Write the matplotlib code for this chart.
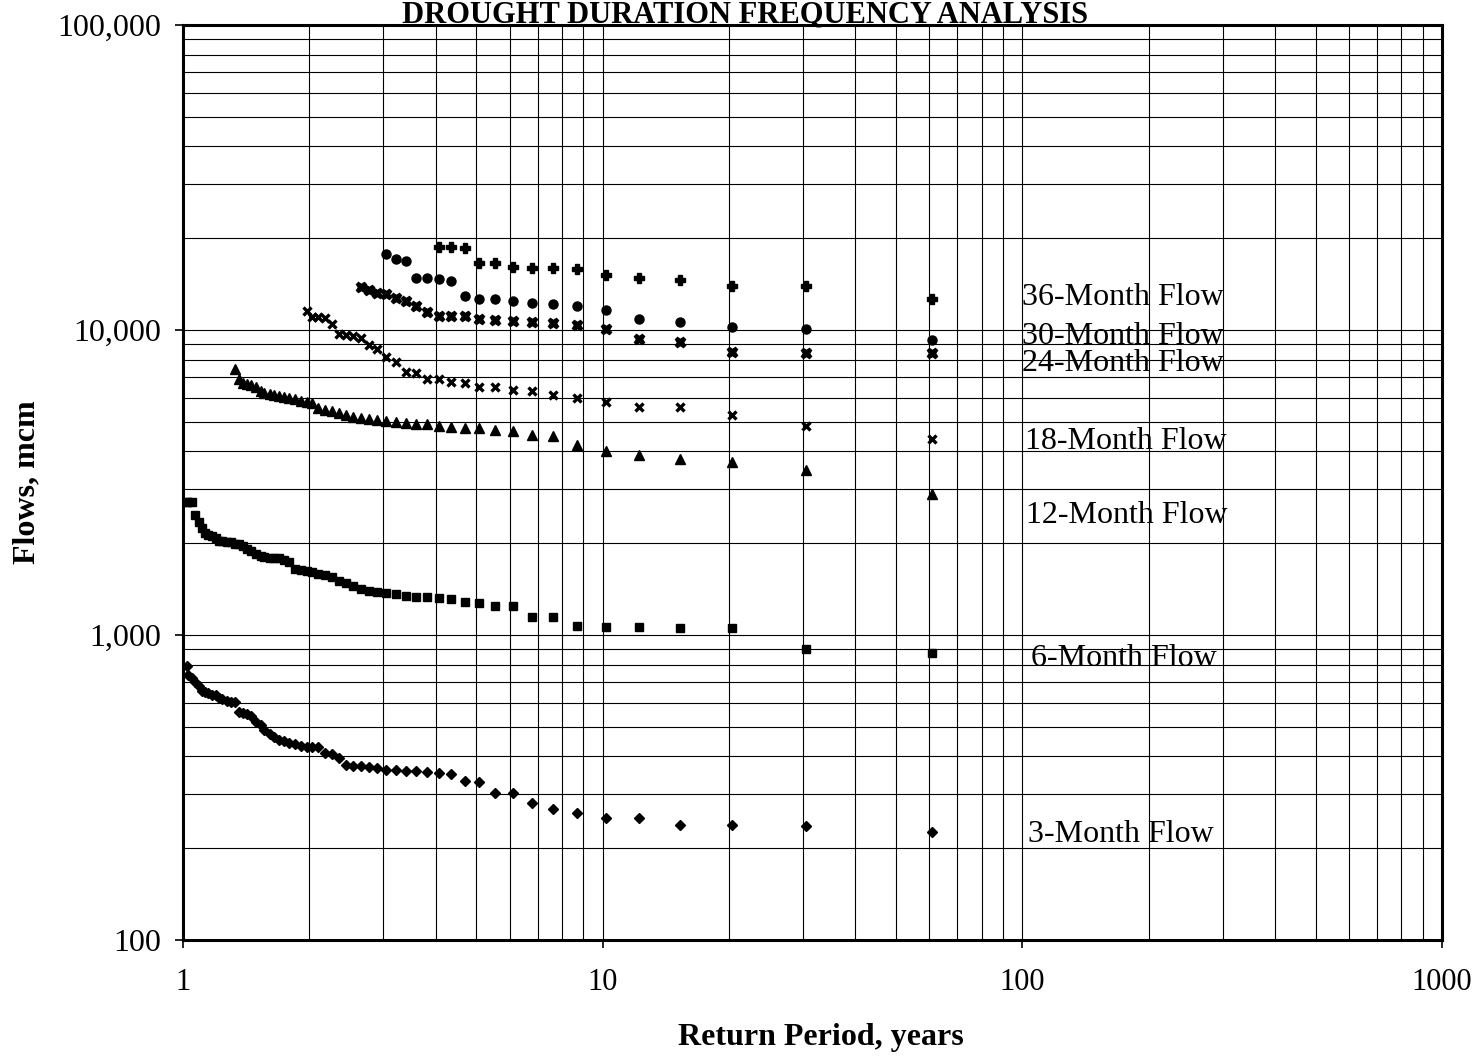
import matplotlib
matplotlib.use("Agg")
import matplotlib.pyplot as plt
from matplotlib.ticker import FixedLocator, LogLocator, NullFormatter

plt.rcParams['font.family'] = ['Liberation Serif', 'DejaVu Serif']

# return periods (years), rank 1 first
return_period = [61.00, 30.50, 20.33, 15.25, 12.20, 10.17, 8.71, 7.63, 6.78, 6.10,
                 5.55, 5.08, 4.69, 4.36, 4.07, 3.81, 3.59, 3.39, 3.21, 3.05,
                 2.90, 2.77, 2.65, 2.54, 2.44, 2.35, 2.26, 2.18, 2.10, 2.03,
                 1.97, 1.91, 1.85, 1.79, 1.74, 1.69, 1.65, 1.61, 1.56, 1.53,
                 1.49, 1.45, 1.42, 1.39, 1.36, 1.33, 1.30, 1.27, 1.24, 1.22,
                 1.20, 1.17, 1.15, 1.13, 1.11, 1.09, 1.07, 1.05, 1.03, 1.02]

# flows (mcm), same order as return_period
flow_3 = [226, 236, 238, 239, 251, 251, 260, 268, 281, 303,
          303, 330, 333, 350, 354, 356, 359, 359, 361, 361,
          366, 368, 372, 373, 375, 395, 407, 409, 428, 428,
          430, 434, 439, 444, 449, 454, 463, 474, 488, 507,
          519, 543, 549, 555, 560, 602, 605, 609, 615, 622,
          634, 638, 643, 648, 655, 680, 701, 723, 739, 791]
flow_6 = [871, 900, 1052, 1052, 1060, 1060, 1073, 1143, 1143, 1245,
          1245, 1270, 1286, 1312, 1319, 1329, 1335, 1347, 1362, 1370,
          1384, 1394, 1410, 1451, 1481, 1498, 1553, 1573, 1581, 1603,
          1621, 1628, 1646, 1735, 1762, 1782, 1789, 1795, 1802, 1816,
          1843, 1879, 1914, 1951, 1988, 1995, 2011, 2018, 2026, 2033,
          2080, 2104, 2128, 2168, 2238, 2347, 2474, 2735, 2735, 2735]
flow_12 = [2890, 3480, 3680, 3780, 3890, 4000, 4200, 4480, 4530, 4680,
           4700, 4760, 4780, 4820, 4840, 4900, 4920, 4970, 5000, 5040,
           5070, 5110, 5130, 5200, 5260, 5360, 5430, 5470, 5560, 5750,
           5820, 5860, 5930, 5970, 6040, 6080, 6110, 6160, 6230, 6320,
           6490, 6590, 6640, 6690, 6920, 7450]
flow_18 = [4390, 4860, 5260, 5580, 5580, 5820, 5970, 6120, 6320, 6360,
           6490, 6520, 6690, 6740, 6890, 6890, 7240, 7300, 7870, 8180,
           8650, 8930, 9390, 9580, 9630, 9680, 10440, 10970, 11060, 11060,
           11540]
flow_24 = [8420, 8430, 8440, 9150, 9340, 10110, 10380, 10570, 10600, 10700,
           10780, 10870, 11100, 11110, 11120, 11480, 11990, 12450, 12750, 13110,
           13180, 13500, 13800]
flow_30 = [9270, 10080, 10250, 10600, 10840, 11630, 11990, 12170, 12260, 12480,
           12640, 12670, 12930, 14510, 14700, 14810, 14850, 16870, 17050, 17710]
flow_36 = [12600, 13900, 13950, 14600, 14800, 15150, 15850, 15950, 16000, 16150,
           16550, 16600, 18600, 18650, 18750]

series_names = ['3-Month Flow', '6-Month Flow', '12-Month Flow', '18-Month Flow',
                '24-Month Flow', '30-Month Flow', '36-Month Flow']

x_ticks = [1, 10, 100, 1000]
x_tick_labels = ['1', '10', '100', '1000']
y_ticks = [100, 1000, 10000, 100000]
y_tick_labels = ['100', '1,000', '10,000', '100,000']

fig = plt.figure(figsize=(14.81, 10.57), dpi=100)
ax = fig.add_axes([183 / 1481, 1 - 940 / 1057, 1259 / 1481, 915 / 1057])

all_flows = [flow_3, flow_6, flow_12, flow_18, flow_24, flow_30, flow_36]
styles = [
    dict(marker='D', ms=5.5),
    dict(marker='s', ms=6.0),
    dict(marker='^', ms=6.5),
    dict(marker='x', ms=6.0, mew=2.4),
    dict(marker='X', ms=7.5),
    dict(marker='o', ms=6.5),
    dict(marker='P', ms=6.5),
]
for flows, st in zip(all_flows, styles):
    ax.plot(return_period[:len(flows)], flows, linestyle='none', color='black',
            mfc='black', mec='black', zorder=3, **st)

ax.set_xscale('log')
ax.set_yscale('log')
ax.set_xlim(1, 1000)
ax.set_ylim(100, 100000)

ax.xaxis.set_major_locator(FixedLocator(x_ticks))
ax.set_xticklabels(x_tick_labels)
ax.yaxis.set_major_locator(FixedLocator(y_ticks))
ax.set_yticklabels(y_tick_labels)
ax.xaxis.set_minor_locator(LogLocator(base=10, subs=range(2, 10)))
ax.yaxis.set_minor_locator(LogLocator(base=10, subs=range(2, 10)))
ax.xaxis.set_minor_formatter(NullFormatter())
ax.yaxis.set_minor_formatter(NullFormatter())

ax.tick_params(which='major', direction='out', length=6, width=1.2,
               labelsize=22, colors='black')
ax.tick_params(axis='y', which='major', labelsize=23, pad=10)
ax.tick_params(axis='x', which='major', pad=14)
ax.tick_params(which='minor', length=0)

ax.grid(which='both', color='black', linewidth=0.8)
ax.set_axisbelow(True)
for sp in ax.spines.values():
    sp.set_linewidth(2.2)
    sp.set_color('black')

# series labels (left edge, baseline)
label_x = [103, 105, 102, 101.4, 100, 100, 100]
label_y = [210, 794, 2329, 4057, 7365, 9030, 12078]
for name, lx, ly in zip(series_names, label_x, label_y):
    ax.text(lx, ly, name, fontsize=23, ha='left', va='baseline', zorder=4)

fig.text(745 / 1481, 1 - 22 / 1057, 'DROUGHT DURATION FREQUENCY ANALYSIS',
         fontsize=22, fontweight='bold', ha='center', va='baseline')
fig.text(821 / 1481, 1 - 1037 / 1057, 'Return Period, years',
         fontsize=23, fontweight='bold', ha='center', va='center')
fig.text(27 / 1481, 1 - 482 / 1057, 'Flows, mcm', rotation=90,
         fontsize=23, fontweight='bold', ha='center', va='center')

fig.savefig('out.png', dpi=100, facecolor='white')
